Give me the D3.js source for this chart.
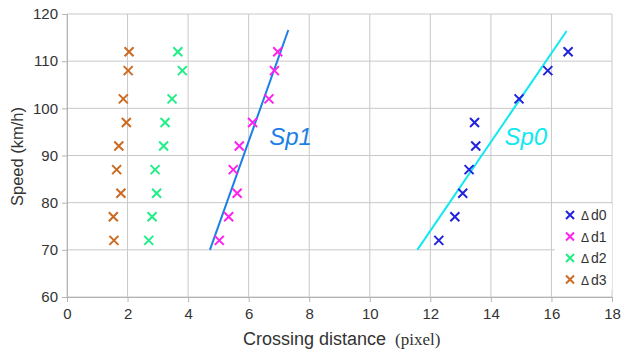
<!DOCTYPE html>
<html>
<head>
<meta charset="utf-8">
<script src="https://d3js.org/d3.v7.min.js"></script>
<style>
  body { margin: 0; background: #fff; }
  svg { font-family: "Liberation Sans", Arial, sans-serif; }
</style>
</head>
<body>
<script>
// speeds shared by all series
const speeds = [72, 77, 82, 87, 92, 97, 102, 108, 112];

// crossing distances per series (pixel)
const delta0 = [12.28, 12.81, 13.07, 13.28, 13.5, 13.46, 14.93, 15.88, 16.55];
const delta1 = [5.03, 5.34, 5.62, 5.49, 5.69, 6.13, 6.67, 6.85, 6.96];
const delta2 = [2.70, 2.81, 2.96, 2.91, 3.19, 3.24, 3.47, 3.81, 3.66];
const delta3 = [1.55, 1.53, 1.78, 1.64, 1.71, 1.96, 1.86, 2.02, 2.05];

const seriesNames = ["d0", "d1", "d2", "d3"];
const seriesColors = ["#2222dd", "#ff22ee", "#22ee88", "#cc6a22"];

// fitted lines: [x, speed] endpoints
const sp0Line = [[11.57, 70], [16.5, 116.4]];
const sp1Line = [[4.72, 70], [7.31, 116.6]];

const xTicks = [0, 2, 4, 6, 8, 10, 12, 14, 16, 18];
const yTicks = [60, 70, 80, 90, 100, 110, 120];

const margin = { top: 14, right: 13, bottom: 55, left: 67 };
const width = 625 - margin.left - margin.right;
const height = 352 - margin.top - margin.bottom;

const svg = d3.select("body")
    .append("svg")
    .attr("width", 625)
    .attr("height", 352);

const g = svg.append("g")
    .attr("transform", `translate(${margin.left},${margin.top})`);

const x = d3.scaleLinear().domain([0, 18]).range([0, width]);
const y = d3.scaleLinear().domain([60, 120]).range([height, 0]);

// grid
g.append("g")
    .selectAll("line")
    .data(xTicks)
    .join("line")
    .attr("x1", d => x(d)).attr("x2", d => x(d))
    .attr("y1", 0).attr("y2", height)
    .attr("stroke", "#c8c8c8");

g.append("g")
    .selectAll("line")
    .data(yTicks)
    .join("line")
    .attr("x1", 0).attr("x2", width)
    .attr("y1", d => y(d)).attr("y2", d => y(d))
    .attr("stroke", "#c8c8c8");

// axes
const xAxis = g.append("g")
    .attr("transform", `translate(0,${height})`)
    .call(d3.axisBottom(x).tickValues(xTicks).tickSize(5).tickPadding(6));
const yAxis = g.append("g")
    .call(d3.axisLeft(y).tickValues(yTicks).tickSize(5).tickPadding(4));

[xAxis, yAxis].forEach(a => {
    a.select(".domain").attr("stroke", "#b4b4b4");
    a.selectAll(".tick line").attr("stroke", "#b4b4b4");
    a.selectAll(".tick text")
        .attr("fill", "#333")
        .style("font-size", "15px")
        .style("font-family", "Liberation Sans, Arial, sans-serif");
});

// fitted lines
const line = d3.line().x(d => x(d[0])).y(d => y(d[1]));
g.append("path").datum(sp1Line).attr("d", line)
    .attr("stroke", "#1c7fe8").attr("stroke-width", 2).attr("fill", "none");
g.append("path").datum(sp0Line).attr("d", line)
    .attr("stroke", "#11e8f0").attr("stroke-width", 2).attr("fill", "none");

// cross markers
function cross(sel, s) {
    sel.append("path")
        .attr("d", `M${-s},${-s}L${s},${s}M${-s},${s}L${s},${-s}`);
}

[delta0, delta1, delta2, delta3].forEach((vals, i) => {
    const grp = g.append("g")
        .attr("stroke", seriesColors[i])
        .attr("stroke-width", 2)
        .attr("fill", "none");
    vals.forEach((v, j) => {
        const m = grp.append("g")
            .attr("transform", `translate(${x(v)},${y(speeds[j])})`);
        cross(m, 4.5);
    });
});

// line labels
g.append("text")
    .attr("x", x(6.68)).attr("y", y(92.3))
    .attr("fill", "#1c7fe8")
    .style("font-size", "24px").style("font-style", "italic")
    .text("Sp1");
g.append("text")
    .attr("x", x(14.45)).attr("y", y(92.3))
    .attr("fill", "#11e8f0")
    .style("font-size", "24px").style("font-style", "italic")
    .text("Sp0");

// legend
const legend = svg.append("g").attr("transform", "translate(555,204)");
legend.append("rect")
    .attr("width", 57).attr("height", 86)
    .attr("fill", "#fff");
seriesNames.forEach((name, i) => {
    const row = legend.append("g")
        .attr("transform", `translate(15,${11 + i * 21.5})`);
    const m = row.append("g")
        .attr("stroke", seriesColors[i])
        .attr("stroke-width", 2);
    cross(m, 4);
    const t = row.append("text")
        .attr("x", 11).attr("y", 5)
        .attr("fill", "#333");
    t.append("tspan").style("font-size", "12px").text("\u0394");
    t.append("tspan").attr("dx", 2).style("font-size", "14px").text(name);
});

// axis titles
svg.append("text")
    .attr("transform", `translate(23,${margin.top + height / 2 + 1}) rotate(-90)`)
    .attr("text-anchor", "middle")
    .attr("fill", "#333")
    .style("font-size", "16.5px")
    .text("Speed (km/h)");

const xt = svg.append("text")
    .attr("x", 243).attr("y", 345)
    .attr("fill", "#333")
    .style("font-size", "18px");
xt.append("tspan").text("Crossing distance");
xt.append("tspan")
    .attr("dx", 9)
    .style("font-family", "Liberation Serif, serif")
    .style("font-size", "17px")
    .text("(pixel)");
</script>
</body>
</html>
